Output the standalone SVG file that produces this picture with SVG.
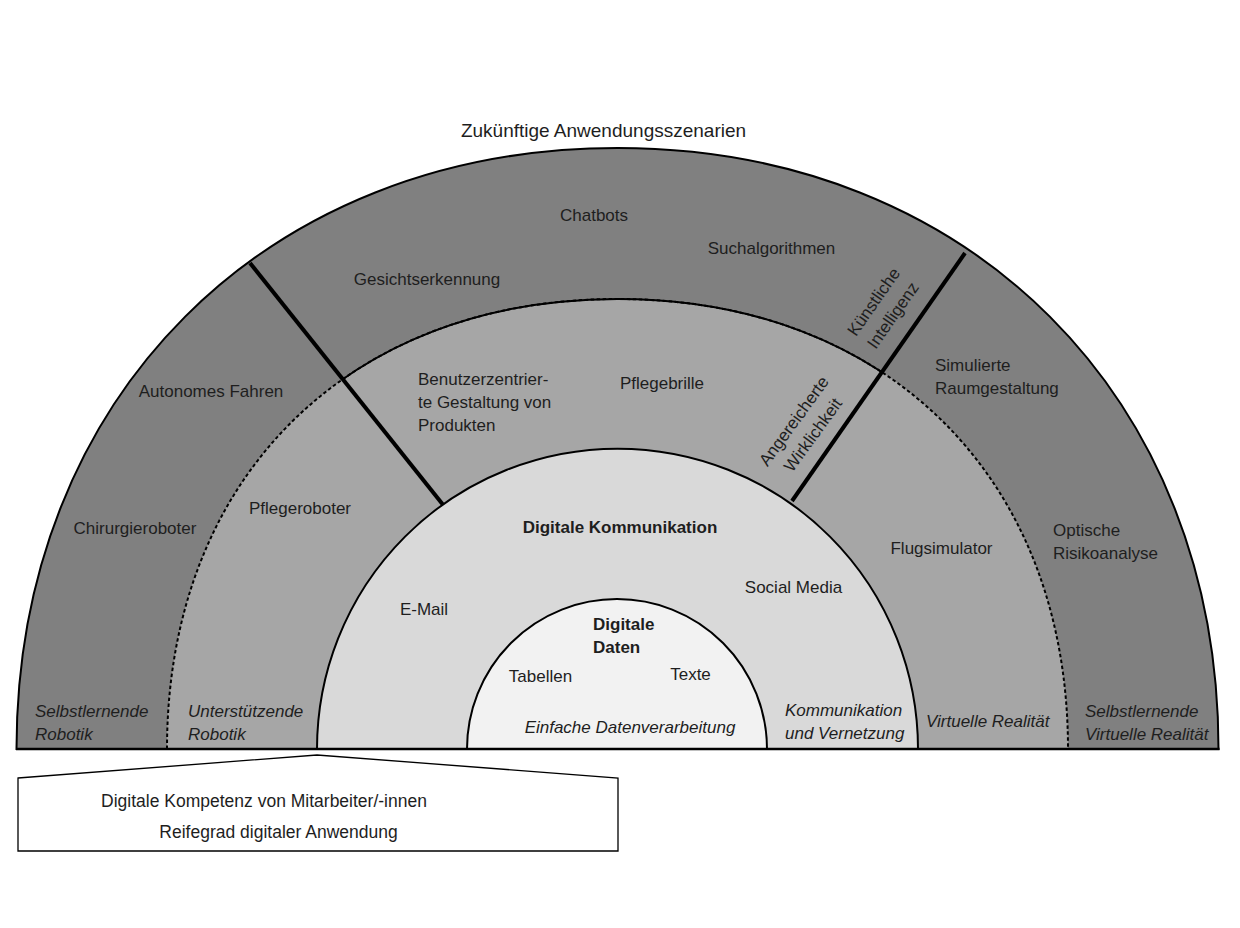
<svg xmlns="http://www.w3.org/2000/svg" width="1240" height="928" viewBox="0 0 1240 928">
<style>
text{font-family:"Liberation Sans",Arial,sans-serif;font-size:17px;fill:#1e1e1e}
.c{text-anchor:middle}
.b{font-weight:bold}
.i{font-style:italic}
.arc{stroke:#000;stroke-width:2;fill:none}
.sep{stroke:#000;stroke-width:4;stroke-linecap:butt}
</style>
<defs>
<path id="ring450" d="M167 749 C167 479 347.2 299 617.5 299 C887.8 299 1068 479 1068 749"/>
<clipPath id="wedge"><polygon points="443,505 120,100 1072,100 793,499"/></clipPath>
</defs>
<rect width="1240" height="928" fill="#fff"/>
<g id="outer-ring">
<path d="M16.5 749 C16.5 397.4 266 148 617.5 148 C969 148 1218.5 397.4 1218.5 749 Z" fill="#808080" stroke="#000" stroke-width="2"/>
</g>
<g id="middle-ring">
<path d="M167 749 C167 479 347.2 299 617.5 299 C887.8 299 1068 479 1068 749 Z" fill="#a6a6a6"/>
<use href="#ring450" class="arc" stroke-dasharray="3.5 2.5"/>
<use href="#ring450" class="arc" clip-path="url(#wedge)"/>
</g>
<g id="separators">
<line class="sep" x1="250" y1="263" x2="444" y2="506"/>
<line class="sep" x1="965" y1="253" x2="792" y2="501"/>
</g>
<g id="digitale-kommunikation">
<path d="M317 749 A300.5 300.5 0 0 1 918 749 Z" fill="#d9d9d9" stroke="#000" stroke-width="2"/>
</g>
<g id="digitale-daten">
<path d="M467 749 A150 150 0 0 1 767 749 Z" fill="#f2f2f2" stroke="#000" stroke-width="2"/>
</g>
<g id="baseline">
<line x1="16" y1="749" x2="1219.5" y2="749" stroke="#000" stroke-width="2.5"/>
</g>
<g id="reifegrad-box">
<polygon points="18,778 317,755 618,778 618,851 18,851" fill="#fff" stroke="#000" stroke-width="1.3"/>
<text class="c" x="264" y="807" style="font-size:17.5px">Digitale Kompetenz von Mitarbeiter/-innen</text>
<text class="c" x="278.5" y="838" style="font-size:17.5px">Reifegrad digitaler Anwendung</text>
</g>
<g id="title">
<text class="c" x="603.5" y="137" style="font-size:19px">Zukünftige Anwendungsszenarien</text>
</g>
<g id="labels-outer">
<text class="c" x="594" y="221">Chatbots</text>
<text class="c" x="771.5" y="254">Suchalgorithmen</text>
<text class="c" x="427" y="285">Gesichtserkennung</text>
<text class="c" x="211" y="397">Autonomes Fahren</text>
<text x="935" y="371">Simulierte</text>
<text x="935" y="394">Raumgestaltung</text>
<text class="c" x="135" y="534">Chirurgieroboter</text>
<text x="1053" y="536">Optische</text>
<text x="1053" y="559">Risikoanalyse</text>
<g transform="translate(883.7,308.8) rotate(-55)">
<text class="c" x="0" y="-6.5">Künstliche</text>
<text class="c" x="0" y="17">Intelligenz</text>
</g>
<text class="i" x="35" y="717">Selbstlernende</text>
<text class="i" x="35" y="740">Robotik</text>
<text class="i" x="1085" y="717">Selbstlernende</text>
<text class="i" x="1085" y="740">Virtuelle Realität</text>
</g>
<g id="labels-middle">
<text x="418" y="385">Benutzerzentrier-</text>
<text x="418" y="408">te Gestaltung von</text>
<text x="418" y="431">Produkten</text>
<text class="c" x="662" y="389">Pflegebrille</text>
<text class="c" x="300" y="514">Pflegeroboter</text>
<text class="c" x="941.5" y="554">Flugsimulator</text>
<g transform="translate(803.8,428.3) rotate(-54)">
<text class="c" x="0" y="-6.5">Angereicherte</text>
<text class="c" x="0" y="17">Wirklichkeit</text>
</g>
<text class="i" x="188" y="717">Unterstützende</text>
<text class="i" x="188" y="740">Robotik</text>
<text class="i" x="926" y="727">Virtuelle Realität</text>
</g>
<g id="labels-kommunikation">
<text class="c b" x="620" y="533">Digitale Kommunikation</text>
<text class="c" x="793.5" y="593">Social Media</text>
<text class="c" x="424" y="615">E-Mail</text>
<text class="i" x="785" y="716">Kommunikation</text>
<text class="i" x="785" y="739">und Vernetzung</text>
</g>
<g id="labels-daten">
<text class="b" x="593" y="630">Digitale</text>
<text class="b" x="593" y="653">Daten</text>
<text class="c" x="540.5" y="682">Tabellen</text>
<text class="c" x="690.5" y="680">Texte</text>
<text class="c i" x="630" y="733">Einfache Datenverarbeitung</text>
</g>
</svg>
